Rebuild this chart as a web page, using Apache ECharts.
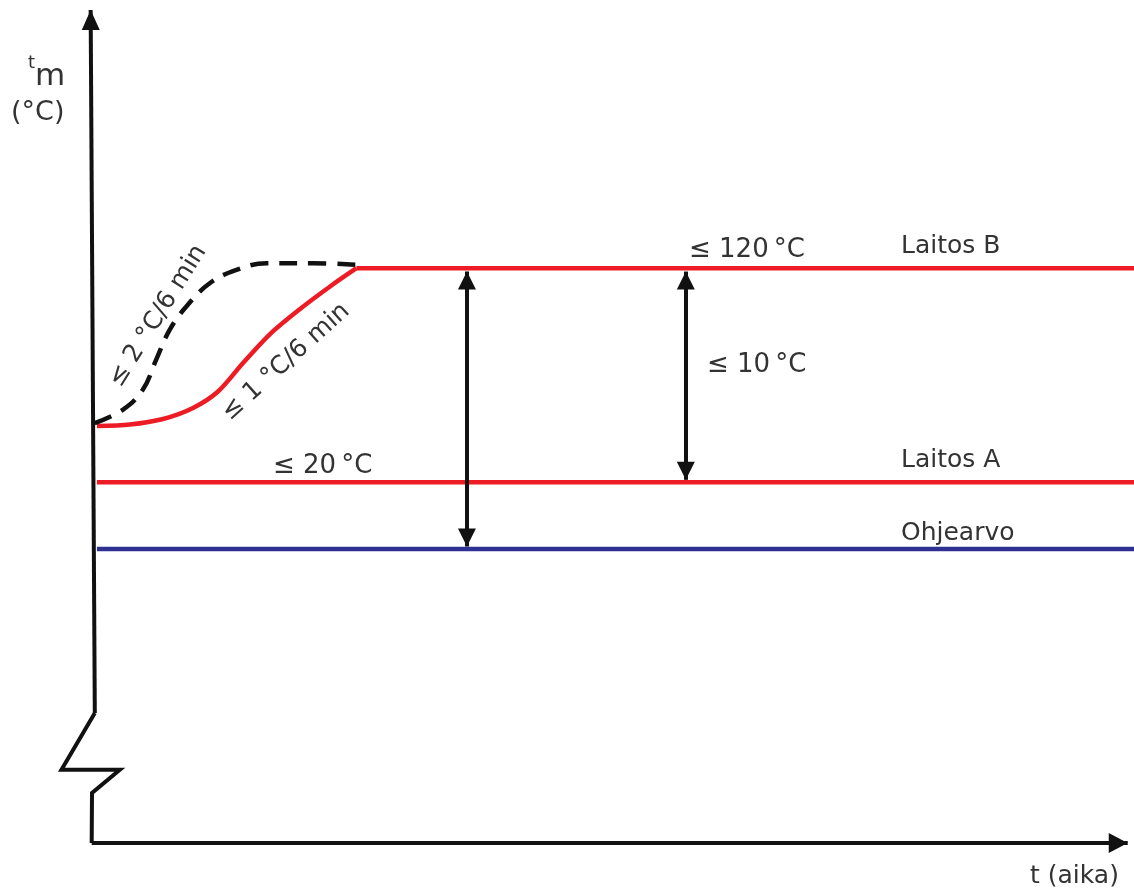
<!DOCTYPE html>
<html>
<head>
<meta charset="utf-8">
<script src="https://cdn.jsdelivr.net/npm/echarts@6/dist/echarts.min.js"></script>
<style>
  html, body { margin: 0; padding: 0; background: #fff; }
  #chart { width: 1134px; height: 888px; }
</style>
</head>
<body>
<div id="chart"></div>
<script>
// schematic units: x = time (aika), y = temperature level t_m
const levelNames = ['Laitos B', 'Laitos A', 'Ohjearvo'];
const levelValues = [69, 43.3, 35.3];
const levelStartX = [25.4, 0.5, 0.5];
const levelEndX = 100;

// warm-up ramp, <= 1 °C / 6 min (red)
const rampX = [0.51, 3.67, 6.84, 9.72, 12.12, 14.52, 17.11, 19.99, 22.87, 25.4];
const rampY = [50.06, 50.24, 50.9, 52.22, 54.2, 57.62, 61.1, 64.11, 66.81, 69];

// warm-up ramp, <= 2 °C / 6 min (dashed)
const dashX = [0.29, 2.98, 4.9, 6.18, 7.48, 9.08, 11.32, 13.89, 16.76, 21.24, 25.7];
const dashY = [50.4, 52.0, 54.4, 58.0, 61.6, 64.4, 67.2, 68.8, 69.6, 69.6, 69.4];

// y axis with a break near the bottom
const yAxisX = [0.3, -2.9, 2.7, 0.03, 0];
const yAxisY = [15.6, 8.8, 8.8, 6.0, 0];
const yAxisTop = [-0.1, 100];
const xAxisEnd = 99.4;

// double arrows: x position, from level, to level
const arrowX = [36.0, 57.0];
const arrowFrom = [68.6, 68.6];
const arrowTo = [35.6, 43.6];

const RED = '#ed1c24';
const BLUE = '#2e3192';
const INK = '#111';
const TXT = '#333';
const FONT = '"DejaVu Sans", Verdana, sans-serif';

const pairs = (xs, ys) => xs.map((x, i) => [x, ys[i]]);

let chart = echarts.init(document.getElementById('chart'));

// level lines
let series = levelNames.map((name, i) => ({
  name: name,
  type: 'line',
  data: [[levelStartX[i], levelValues[i]], [levelEndX, levelValues[i]]],
  symbol: 'none',
  lineStyle: { color: i === 2 ? BLUE : RED, width: 4.5 },
  animation: false,
  silent: true
}));

series.push({
  type: 'line',
  data: pairs(rampX, rampY),
  smooth: 0.3,
  symbol: 'none',
  lineStyle: { color: RED, width: 4.5 },
  animation: false,
  silent: true
});

series.push({
  type: 'line',
  data: pairs(dashX, dashY),
  smooth: 0.4,
  symbol: 'none',
  lineStyle: { color: INK, width: 4.5, type: [18, 11] },
  animation: false,
  silent: true
});

// arrow head helpers
const head = (size) => ({ symbol: 'triangle', symbolSize: size, symbolOffset: [0, size[1] / 2] });
const plain = { symbol: 'none' };

let markData = [];
// y axis upper part with arrow
markData.push([
  Object.assign({ coord: [yAxisX[0], yAxisY[0]] }, plain),
  Object.assign({ coord: yAxisTop }, head([18, 20]))
]);
// x axis with arrow
markData.push([
  Object.assign({ coord: [yAxisX[yAxisX.length - 1], yAxisY[yAxisY.length - 1]] }, plain),
  Object.assign({ coord: [xAxisEnd, 0] }, head([20, 19]))
]);
// double arrows
arrowX.forEach((x, i) => {
  markData.push([
    Object.assign({ coord: [x, arrowFrom[i]] }, head([18, 18])),
    Object.assign({ coord: [x, arrowTo[i]] }, head([18, 18]))
  ]);
});

series.push({
  type: 'line',
  data: pairs(yAxisX, yAxisY),
  symbol: 'none',
  color: INK,
  lineStyle: { color: INK, width: 4, join: 'miter' },
  animation: false,
  silent: true,
  markLine: {
    silent: true,
    animation: false,
    label: { show: false },
    lineStyle: { color: INK, width: 4, type: 'solid' },
    itemStyle: { color: INK },
    emphasis: { disabled: true },
    data: markData
  }
});

function txt(str, x, y, size, extra) {
  return Object.assign({
    type: 'text',
    x: x,
    y: y,
    silent: true,
    style: {
      text: str,
      font: size + 'px ' + FONT,
      fill: TXT,
      textAlign: 'left',
      align: 'left',
      textVerticalAlign: 'middle',
      verticalAlign: 'middle'
    }
  }, extra || {});
}

function rotated(str, x, y, size, deg) {
  let t = txt(str, x, y, size, { rotation: deg * Math.PI / 180 });
  t.style.textAlign = 'center';
  t.style.align = 'center';
  return t;
}

chart.setOption({
  backgroundColor: '#fff',
  grid: { left: 50, right: 0, top: 10, bottom: 45 },
  xAxis: { type: 'value', min: -4, max: 100, show: false },
  yAxis: { type: 'value', min: 0, max: 100, show: false },
  series: series,
  graphic: [
    txt('t', 28, 63, 18),
    txt('m', 35, 77, 31),
    txt('(°C)', 11, 113, 27),
    txt('≤ 120\u2009°C', 689, 250, 26),
    txt(levelNames[0], 901, 246, 25),
    txt('≤ 10\u2009°C', 707, 365, 26),
    txt('≤ 20\u2009°C', 273, 466, 26),
    txt(levelNames[1], 901, 460, 25),
    txt(levelNames[2], 901, 533, 25),
    txt('t (aika)', 1030, 876, 25),
    rotated('≤ 2 °C/6 min', 158, 316, 25, 58),
    rotated('≤ 1 °C/6 min', 286, 362, 25, 42)
  ]
});
</script>
</body>
</html>
